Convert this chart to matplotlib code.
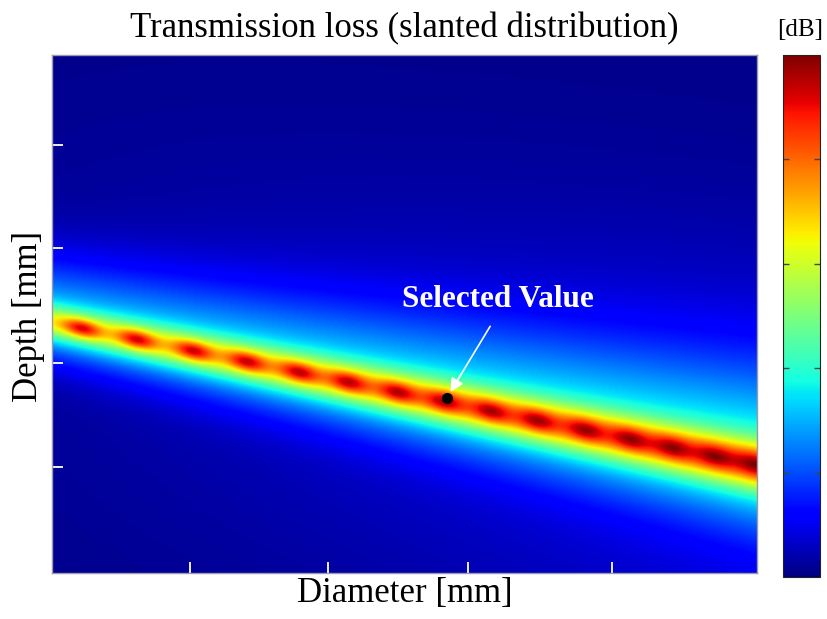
import numpy as np
import matplotlib
matplotlib.use('Agg')
import matplotlib.pyplot as plt

plt.rcParams['font.family'] = ['Liberation Serif', 'DejaVu Serif']

# Grid extent (mm)
diameter_range = [0.0, 50.0]
depth_range = [0.0, 50.0]

# Band centre line: depth at left and right edge
band_diameter = [0.0, 50.0]
band_depth = [25.8, 39.6]

# Peak positions along the band (mm)
blob_diameter = [2.1, 6.0, 10.0, 13.8, 17.5, 21.0, 24.5, 27.8, 31.1,
                 34.4, 37.8, 41.0, 44.0, 47.0, 49.8]

# Level / width of each component at the left and right edge (widths in px)
core_level = [0.31, 0.45]
core_width = [12.0, 17.0]
halo_level = [0.30, 0.30]
halo_width = [33.0, 52.0]
blob_level = [0.28, 0.14]
blob_width = [6.0, 8.0]
glow_level = [0.02, 0.10]
floor_level = 0.01

selected_diameter = 28.0
selected_depth = 33.1

xticks = [9.8, 19.6, 29.5, 39.7]
yticks = [8.7, 18.6, 29.7, 39.8]
cbar_ticks = [0.2, 0.4, 0.6, 0.8]

# pixel scale of the plot area, used for the band widths
px_x = 705 / (diameter_range[1] - diameter_range[0])
px_y = 518 / (depth_range[1] - depth_range[0])

diameter = np.linspace(diameter_range[0], diameter_range[1], 706)
depth = np.linspace(depth_range[0], depth_range[1], 519)
D, Z = np.meshgrid(diameter, depth)


def edge(vals):
    return np.interp(D, band_diameter, vals)


centre = np.interp(D, band_diameter, band_depth)
d = (Z - centre) * px_y

core = edge(core_level) * np.exp(-d ** 2 / (2 * edge(core_width) ** 2))
hw = edge(halo_width) * np.where(d < 0, 1.3, 0.85)
halo = edge(halo_level) * np.exp(-d ** 2 / (2 * hw ** 2))
glow = edge(glow_level) * np.exp(-d ** 2 / (2 * 150.0 ** 2))

along = np.zeros_like(D)
for b in blob_diameter:
    along += np.exp(-((D - b) * px_x) ** 2 / (2 * 13.0 ** 2))
blobs = edge(blob_level) * along * np.exp(-d ** 2 / (2 * edge(blob_width) ** 2))

loss = np.clip(floor_level + glow + halo + core + blobs, 0, 1)

fig = plt.figure(figsize=(8.27, 6.19), dpi=100)
ax = fig.add_axes([0.0629, 0.0743, 0.8525, 0.8368])
cax = fig.add_axes([0.9468, 0.0679, 0.0447, 0.8433])

im = ax.imshow(loss, cmap='jet', vmin=0, vmax=1, aspect='auto',
               interpolation='bilinear', origin='upper',
               extent=[diameter_range[0], diameter_range[1],
                       depth_range[1], depth_range[0]])

ax.plot(selected_diameter, selected_depth, 'o', color='black', ms=7)
ax.annotate('Selected Value', xy=(selected_diameter, selected_depth),
            xytext=(31.6, 23.6), ha='center', va='center',
            color='white', fontsize=22.5, fontweight='bold',
            arrowprops=dict(arrowstyle='-|>', color='white', lw=1.2,
                            mutation_scale=20, relpos=(0.5, 0.0),
                            shrinkA=8, shrinkB=5))

ax.set_xticks(xticks)
ax.set_yticks(yticks)
ax.set_xticklabels([])
ax.set_yticklabels([])
ax.tick_params(direction='in', color='white', length=8, width=1.3)
for s in ax.spines.values():
    s.set_color('#9a9aaa')
    s.set_linewidth(1)

cb = fig.colorbar(im, cax=cax)
cb.set_ticks(cbar_ticks)
cb.set_ticklabels([])
cax.tick_params(direction='in', left=True, right=True, length=4,
                width=1, color='#444444')
cb.outline.set_linewidth(0.8)
cb.outline.set_edgecolor('#222222')

fig.text(0.489, 0.940, 'Transmission loss (slanted distribution)',
         ha='center', va='baseline', fontsize=25)
fig.text(0.489, 0.0275, 'Diameter [mm]', ha='center', va='baseline',
         fontsize=25)
fig.text(0.034, 0.489, 'Depth [mm]', rotation=90, ha='center',
         va='center', fontsize=25)
fig.text(0.968, 0.952, '[dB]', ha='center', va='center', fontsize=18)

fig.savefig('out.png', dpi=100)
